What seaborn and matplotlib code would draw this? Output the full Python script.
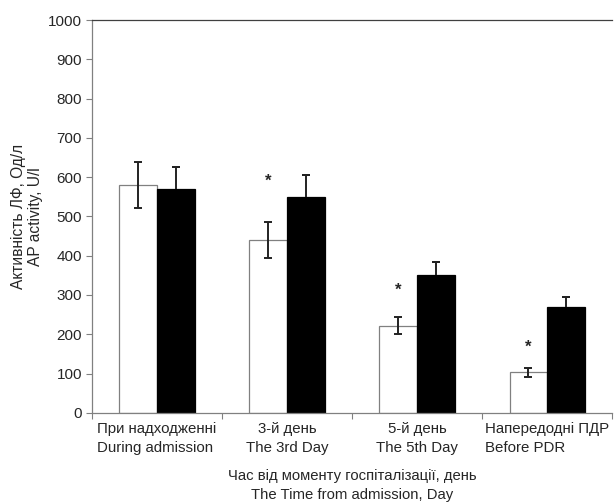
import numpy as np
import pandas as pd
import matplotlib
matplotlib.use("Agg")
import matplotlib.pyplot as plt
import seaborn as sns

# category labels (two-line, Ukrainian / English)
categories = ["При надходженні\nDuring admission",
              "3-й день\nThe 3rd Day",
              "5-й день\nThe 5th Day",
              "Напередодні ПДР\nBefore PDR"]
groups = ["A", "B"]
# values
white_vals = [580, 440, 222, 103]
white_err = [58, 45, 22, 11]
black_vals = [570, 550, 350, 270]
black_err = [57, 55, 33, 26]
# asterisk marks (y in data units) above white bars
star_y = [None, 590, 313, 168]

df = pd.DataFrame({
    "cat": categories * 2,
    "grp": [groups[0]] * 4 + [groups[1]] * 4,
    "val": white_vals + black_vals,
})

sns.set_style("white")
plt.rcParams["font.family"] = ["Liberation Sans", "DejaVu Sans"]

fig = plt.figure(figsize=(6.16, 5.04), dpi=100)
ax = fig.add_axes([0.149, 0.181, 0.845, 0.779])

sns.barplot(data=df, x="cat", y="val", hue="grp", order=categories,
            hue_order=groups, palette=["white", "black"], width=0.58,
            errorbar=None, legend=False, ax=ax, saturation=1)

# bar edges and error bars
errs = white_err + black_err
for i, p in enumerate(ax.patches[:8]):
    xc = p.get_x() + p.get_width() / 2
    p.set_linewidth(0.9)
    if i < 4:
        p.set_edgecolor("#808080")
        ax.errorbar(xc, p.get_height(), yerr=errs[i], fmt="none",
                    ecolor="#222222", elinewidth=1.4, capsize=2.8,
                    capthick=1.4)
    else:
        p.set_edgecolor("black")
        # lower half is hidden inside the black bar, only upper part shows
        top = p.get_height() + errs[i]
        ax.vlines(xc, p.get_height(), top, color="#222222", lw=1.4)
        ax.errorbar(xc, top, yerr=0, fmt="none", ecolor="#222222",
                    elinewidth=0, capsize=2.8, capthick=1.4)
    if i < 4 and star_y[i] is not None:
        ax.text(xc, star_y[i], "*", ha="center", va="center",
                fontsize=12, fontweight="bold")

ax.set_ylim(0, 1000)
ax.set_xlim(-0.5, 3.5)
ax.set_yticks(range(0, 1001, 100))
ax.tick_params(axis="y", labelsize=11, length=4, width=0.8, color="#808080",
               direction="out", left=True, pad=3)

ax.set_xticks(range(4))
ax.set_xticklabels(categories, fontsize=10.8, linespacing=1.4)
ax.set_xticks(np.arange(-0.5, 4.0, 1.0), minor=True)
ax.tick_params(axis="x", which="major", length=0, pad=7)
ax.tick_params(axis="x", which="minor", length=4, width=0.8,
               color="#808080", direction="out", bottom=True)
for lbl, al in zip(ax.get_xticklabels(), ["left", "center", "center", "left"]):
    lbl.set_multialignment(al)

for s in ["left", "bottom"]:
    ax.spines[s].set_color("#808080")
    ax.spines[s].set_linewidth(0.9)
ax.spines["top"].set_color("#404040")
ax.spines["top"].set_linewidth(0.9)
ax.spines["right"].set_visible(False)

ax.set_ylabel("Активність ЛФ, Од/л\nAP activity, U/l", fontsize=11.2,
              labelpad=4, linespacing=1.15)
ax.set_xlabel("Час від моменту госпіталізації, день\nThe Time from admission, Day",
              fontsize=10.7, labelpad=10, linespacing=1.45)

fig.savefig("out.png", dpi=100)
